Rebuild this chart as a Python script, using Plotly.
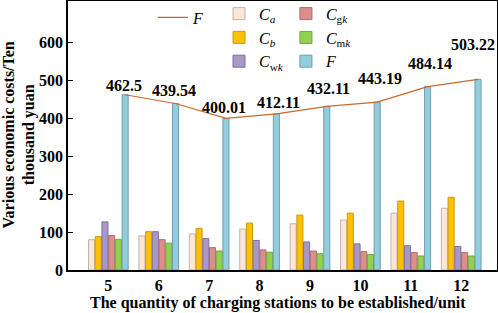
import plotly.graph_objects as go

categories = [5, 6, 7, 8, 9, 10, 11, 12]
Ca = [80, 90, 95, 108, 122, 132, 150, 163]
Cb = [88, 101, 110, 124, 145, 150, 182, 192]
Cwk = [127, 101, 83, 78, 74, 69, 64, 62]
Cgk = [91, 80, 59, 53, 50, 49, 46, 46]
Cmk = [81, 71, 50, 47, 43, 41, 37, 37]
F = [462.5, 439.54, 400.01, 412.11, 432.11, 443.19, 484.14, 503.22]
F_labels = ["462.5", "439.54", "400.01", "412.11", "432.11", "443.19", "484.14", "503.22"]
y_ticks = [0, 100, 200, 300, 400, 500, 600]

# style (not data)
label_yshift = [9, 12.5, 10.5, 11, 17.5, 24, 23.5, 34.5]
label_xshift = [-1, -2, -2, 2, 2, 3, 2, -5]

FONT = "Liberation Serif"
bargap = 0.2
n_bars = 6
slot = (1 - bargap) / n_bars
f_offset = -(1 - bargap) / 2 + slot * 5.5

series = [
    ("<i>C</i><sub><i>a</i></sub>", Ca, "#FBE7D8", "#C4B2A6", "legend", 1),
    ("<i>C</i><sub><i>b</i></sub>", Cb, "#FFC000", "#C79A10", "legend", 2),
    ("<i>C</i><sub>w<i>k</i></sub>", Cwk, "#A898C8", "#7E6FA0", "legend", 3),
    ("<i>C</i><sub>g<i>k</i></sub>", Cgk, "#DA8F8C", "#AE6D6A", "legend2", 1),
    ("<i>C</i><sub>m<i>k</i></sub>", Cmk, "#92D050", "#6EA83A", "legend2", 2),
    ("<i>F</i>", F, "#92CDDC", "#6C9FB0", "legend2", 3),
]

fig = go.Figure()
for name, vals, fill, edge, lg, rank in series:
    fig.add_trace(go.Bar(
        x=categories, y=vals, name=name,
        marker=dict(color=fill, line=dict(color=edge, width=1)),
        legend=lg, legendrank=rank,
    ))

fig.add_trace(go.Scatter(
    x=[c + f_offset for c in categories], y=F, mode="lines", name="<i>F</i>",
    line=dict(color="#C8692E", width=1.2), legend="legend3",
))

for c, v, t, ys, xs in zip(categories, F, F_labels, label_yshift, label_xshift):
    fig.add_annotation(x=c + f_offset, y=v, text="<b>%s</b>" % t, showarrow=False,
                       yanchor="middle", xanchor="center", yshift=ys, xshift=xs,
                       font=dict(family=FONT, size=16, color="black"))

# axis titles
fig.add_annotation(xref="paper", yref="paper", x=0, y=0.5, xshift=-49,
                   text="<b>Various economic costs/Ten<br>thousand yuan</b>",
                   textangle=-90, showarrow=False, xanchor="center", yanchor="middle",
                   font=dict(family=FONT, size=16, color="black"))
fig.add_annotation(xref="paper", yref="paper", x=(278 - 68) / 429, y=0, yshift=-33,
                   text="<b>The quantity of charging stations to be established/unit</b>",
                   showarrow=False, xanchor="center", yanchor="middle",
                   font=dict(family=FONT, size=16, color="black"))

leg_common = dict(bgcolor="rgba(0,0,0,0)", borderwidth=0, yanchor="top", xanchor="left",
                  font=dict(family=FONT, size=16, color="black"), tracegroupgap=0)
fig.update_layout(
    width=498, height=313,
    margin=dict(l=68, r=1, t=1, b=43, autoexpand=False),
    paper_bgcolor="white", plot_bgcolor="white",
    barmode="group", bargap=bargap, bargroupgap=0.1,
    legend=dict(x=0.352, y=1.016, **leg_common),
    legend2=dict(x=0.508, y=1.016, **leg_common),
    legend3=dict(x=0.198, y=1.002, **leg_common),
    xaxis=dict(range=[4.2, 12.71], tickvals=categories,
               ticktext=["<b>%d</b>" % c for c in categories],
               showline=True, linecolor="black", linewidth=1.5, mirror=True,
               ticks="", showgrid=False, zeroline=False, automargin=False,
               tickfont=dict(family=FONT, size=16, color="black")),
    yaxis=dict(range=[0, 710], tickvals=y_ticks, ticktext=["<b>%d</b>" % v for v in y_ticks],
               showline=True, linecolor="black", linewidth=1.5, mirror=True,
               ticks="inside", ticklen=5, tickcolor="black", showgrid=False, zeroline=False,
               automargin=False,
               tickfont=dict(family=FONT, size=16, color="black")),
)

fig.write_html("out.html", config={"displayModeBar": False},
               post_script="document.body.style.margin='0';")
